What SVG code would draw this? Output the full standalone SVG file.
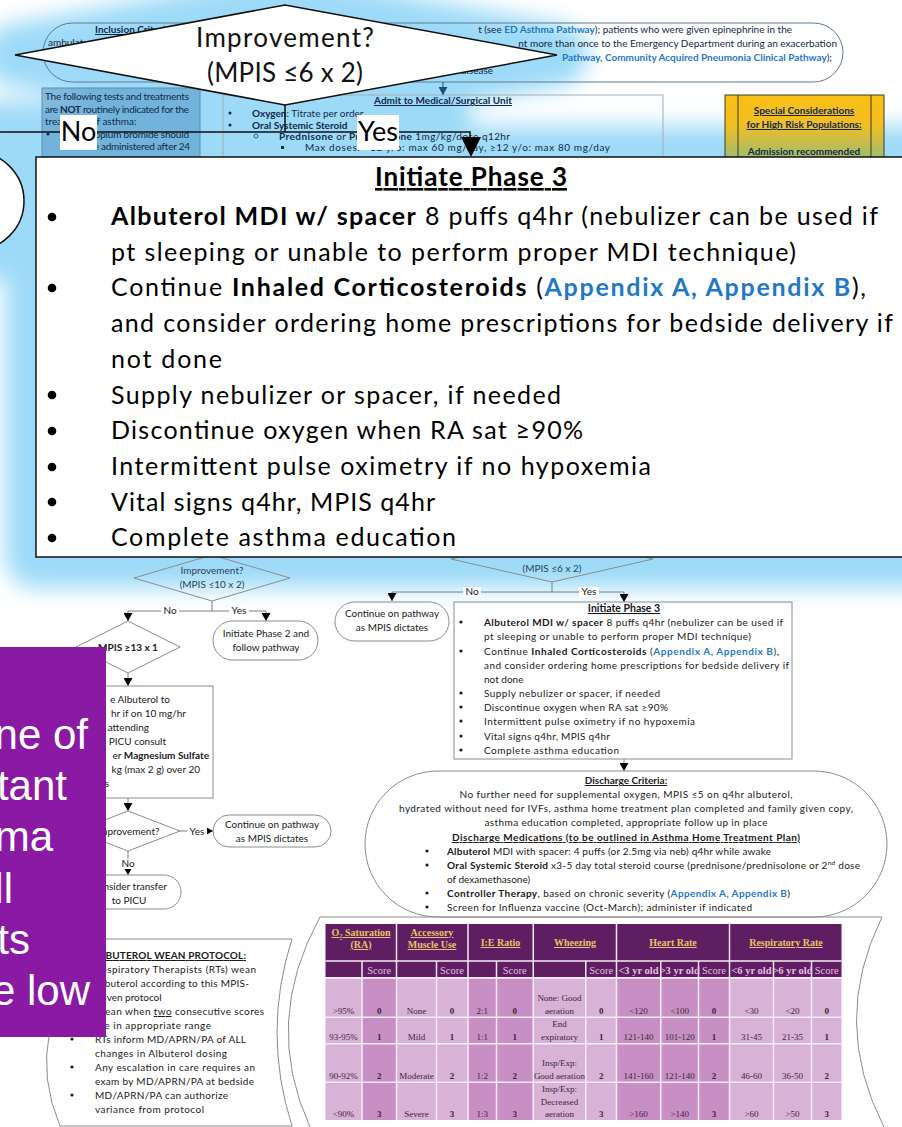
<svg xmlns="http://www.w3.org/2000/svg" width="902" height="1127" viewBox="0 0 902 1127">
<defs>
<style>
.c{font-family:Lato,"Liberation Sans",sans-serif}
.a{font-family:"Liberation Sans",Arial,sans-serif}
.s{font-family:"Liberation Serif","Times New Roman",serif}
.nv{fill:#13294a}
.k{fill:#1a1a1a}
.b{font-weight:bold}
.u{text-decoration:underline}
.lk{fill:#1f78c8;font-weight:bold}
.ln{fill:none;stroke:#7f7f7f;stroke-width:1}
.bx{fill:none;stroke:#8c8c8c;stroke-width:1}
.arr{fill:none;stroke:#7f7f7f;stroke-width:1;marker-end:url(#ah)}
.big{fill:#fff;stroke:#111;stroke-width:1.5}
.lbl{fill:#fff}
.hd{fill:#e9c26a;font-weight:bold;text-decoration:underline;font-size:10px}
.sc{fill:#e6bde4;font-size:10.5px}
.dv{fill:#3a2838;font-size:9px}
.lt{fill:#d9b2d8}
.dk{fill:#c78fc4}
</style>
<filter id="glow" filterUnits="userSpaceOnUse" x="-120" y="-120" width="1200" height="900">
<feGaussianBlur stdDeviation="11"/>
</filter>
<linearGradient id="gold" x1="0" y1="95" x2="0" y2="160" gradientUnits="userSpaceOnUse">
<stop offset="0" stop-color="#f9bf14"/>
<stop offset="0.45" stop-color="#f2bf22"/>
<stop offset="1" stop-color="#9cbb74"/>
</linearGradient>
<marker id="ah" markerUnits="userSpaceOnUse" markerWidth="8" markerHeight="9" refX="8" refY="4.5" orient="auto" viewBox="0 0 8 9">
<path d="M0,0 L8,4.5 L0,9 z" fill="#000"/>
</marker>
<marker id="ahn" markerUnits="userSpaceOnUse" markerWidth="8" markerHeight="9" refX="8" refY="4.5" orient="auto" viewBox="0 0 8 9">
<path d="M0,0 L8,4.5 L0,9 z" fill="#1f4e79"/>
</marker>
</defs>

<rect width="902" height="1127" fill="#fff"/>

<!-- soft blue halo behind the enlarged decision and action box -->
<g id="halo" filter="url(#glow)" fill="#9cdaf8" stroke="#9cdaf8" stroke-width="62" stroke-linejoin="round">
<polygon points="15,55 285,5 557,55 285,105"/>
<rect x="36" y="157" width="900" height="400"/>
<rect x="-300" y="152" width="324" height="98" rx="49"/>
<line x1="-20" y1="132" x2="470" y2="132"/>
</g>

<!-- upper part of the pathway -->
<g id="inclusion-criteria">
<rect x="43" y="23" width="800" height="59" rx="29.5" fill="none" stroke="#5f7a92"/>
<text class="c nv b u" font-size="10" x="95" y="33">Inclusion Criteria:</text>
<text class="c nv" font-size="10" x="48" y="46">ambulatory</text>
<text class="c nv" font-size="10" x="792" y="33" text-anchor="end">t (see <tspan class="lk">ED Asthma Pathway</tspan>); patients who were given epinephrine in the</text>
<text class="c nv" font-size="10" x="837" y="47" text-anchor="end">nt more than once to the Emergency Department during an exacerbation</text>
<text class="c nv" font-size="10" x="832" y="61" text-anchor="end"><tspan class="lk">Pathway, Community Acquired Pneumonia Clinical Pathway</tspan>);</text>
<text class="c nv" font-size="10" x="493" y="74" text-anchor="end">disease</text>
</g>

<g id="not-indicated">
<rect x="42" y="88" width="158" height="80" fill="#1e64a0" fill-opacity="0.33" stroke="#5b8db5"/>
<text class="c nv" font-size="10" x="45" y="100" textLength="144" lengthAdjust="spacing">The following tests and treatments</text>
<text class="c nv" font-size="10" x="45" y="113" textLength="144" lengthAdjust="spacing">are <tspan class="b">NOT</tspan> routinely indicated for the</text>
<text class="c nv" font-size="10" x="45" y="125">treatment of asthma:</text>
<circle cx="48" cy="134" r="1.5" fill="#13294a"/>
<text class="c nv" font-size="10" x="72" y="138" textLength="117" lengthAdjust="spacing">Ipratropium bromide should</text>
<text class="c nv" font-size="10" x="72" y="150" textLength="118" lengthAdjust="spacing">not be administered after 24</text>
</g>

<g id="admit-unit">
<rect x="223" y="95" width="440" height="80" fill="none" stroke="#a3adb5"/>
<text class="c nv b u" font-size="10" x="443" y="104" text-anchor="middle">Admit to Medical/Surgical Unit</text>
<circle cx="230" cy="113" r="1.5" fill="#13294a"/>
<text class="c nv" font-size="10" x="252" y="117"><tspan class="b">Oxygen</tspan>: Titrate per order</text>
<circle cx="230" cy="125" r="1.5" fill="#13294a"/>
<text class="c nv b" font-size="10" x="252" y="129">Oral Systemic Steroid</text>
<circle cx="256" cy="136" r="2" fill="none" stroke="#13294a" stroke-width="0.7"/>
<text class="c nv" font-size="10" x="279" y="140" textLength="231" lengthAdjust="spacing"><tspan class="b">Prednisone</tspan> or <tspan class="b">Prednisolone</tspan> 1mg/kg/dose q12hr</text>
<rect x="281" y="146" width="3" height="3" fill="#13294a"/>
<text class="c nv" font-size="10" x="305" y="151" textLength="305" lengthAdjust="spacing">Max doses: &lt;12 y/o: max 60 mg/day, ≥12 y/o: max 80 mg/day</text>
</g>

<g id="high-risk">
<rect x="725" y="95" width="159" height="80" fill="url(#gold)" stroke="#3d3d2a"/>
<line x1="738" y1="95" x2="738" y2="175" stroke="#3d3d2a"/>
<line x1="871" y1="95" x2="871" y2="175" stroke="#3d3d2a"/>
<text class="c nv b u" font-size="10" x="804" y="114" text-anchor="middle">Special Considerations</text>
<text class="c nv b u" font-size="10" x="804" y="128" text-anchor="middle">for High Risk Populations:</text>
<text class="c nv b" font-size="10" x="804" y="155" text-anchor="middle">Admission recommended</text>
</g>

<g id="top-connectors">
<line x1="443" y1="82" x2="443" y2="95" stroke="#1f4e79" marker-end="url(#ahn)"/>
</g>

<!-- lower part of the pathway -->
<g id="connectors">
<line class="ln" x1="212" y1="601" x2="212" y2="611"/>
<line class="ln" x1="128" y1="611" x2="266" y2="611"/>
<line class="arr" x1="128" y1="611" x2="128" y2="621"/>
<line class="arr" x1="266" y1="611" x2="266" y2="621"/>
<line class="arr" x1="128" y1="673" x2="128" y2="686"/>
<line class="arr" x1="128" y1="798" x2="128" y2="811"/>
<line class="arr" x1="180" y1="831" x2="213" y2="831"/>
<line class="arr" x1="128" y1="851" x2="128" y2="875"/>
<line class="ln" x1="552" y1="582" x2="552" y2="592"/>
<line class="ln" x1="392" y1="592" x2="624" y2="592"/>
<line class="arr" x1="392" y1="592" x2="392" y2="601"/>
<line class="arr" x1="624" y1="592" x2="624" y2="602"/>
<line class="arr" x1="624" y1="759" x2="624" y2="771"/>
<rect class="lbl" x="161" y="606" width="18" height="10"/>
<text class="c k" font-size="10" x="170" y="614" text-anchor="middle">No</text>
<rect class="lbl" x="229" y="606" width="20" height="10"/>
<text class="c k" font-size="10" x="239" y="614" text-anchor="middle">Yes</text>
<rect class="lbl" x="187" y="826" width="20" height="10"/>
<text class="c k" font-size="10" x="197" y="835" text-anchor="middle">Yes</text>
<rect class="lbl" x="119" y="859" width="18" height="10"/>
<text class="c k" font-size="10" x="128" y="867" text-anchor="middle">No</text>
<rect class="lbl" x="463" y="587" width="18" height="10"/>
<text class="c k" font-size="10" x="472" y="595" text-anchor="middle">No</text>
<rect class="lbl" x="579" y="587" width="20" height="10"/>
<text class="c k" font-size="10" x="589" y="595" text-anchor="middle">Yes</text>
</g>

<g id="improvement-10">
<polygon class="bx" points="134,578 212,555 290,578 212,601"/>
<text class="c" fill="#2d4257" font-size="10" x="212" y="574" text-anchor="middle">Improvement?</text>
<text class="c" fill="#2d4257" font-size="10" x="212" y="588" text-anchor="middle">(MPIS ≤10 x 2)</text>
</g>

<g id="phase-2">
<rect class="bx" x="213" y="621" width="105" height="39" rx="19.5"/>
<text class="c k" font-size="10" x="266" y="637" text-anchor="middle">Initiate Phase 2 and</text>
<text class="c k" font-size="10" x="266" y="651" text-anchor="middle">follow pathway</text>
</g>

<g id="mpis-13">
<polygon class="bx" points="76,647 128,621 180,647 128,673"/>
<text class="c k b" font-size="10" x="128" y="651" text-anchor="middle">MPIS ≥13 x 1</text>
</g>

<g id="escalate">
<rect class="bx" x="44" y="686" width="169" height="112"/>
<text class="c k" font-size="10" x="170" y="703" text-anchor="end">e Albuterol to</text>
<text class="c k" font-size="10" x="186" y="717" text-anchor="end">hr if on 10 mg/hr</text>
<text class="c k" font-size="10" x="149" y="731" text-anchor="end">attending</text>
<text class="c k" font-size="10" x="166" y="745" text-anchor="end">PICU consult</text>
<text class="c k" font-size="10" x="209" y="759" text-anchor="end">er <tspan class="b">Magnesium Sulfate</tspan></text>
<text class="c k" font-size="10" x="200" y="773" text-anchor="end">kg (max 2 g) over 20</text>
<text class="c k" font-size="10" x="109" y="787" text-anchor="end">s</text>
</g>

<g id="improvement-2">
<polygon class="bx" points="76,831 128,811 180,831 128,851"/>
<text class="c k" font-size="10" x="128" y="835" text-anchor="middle">Improvement?</text>
</g>

<g id="continue-1">
<rect class="bx" x="213" y="815" width="118" height="32" rx="16"/>
<text class="c k" font-size="10" x="272" y="828" text-anchor="middle">Continue on pathway</text>
<text class="c k" font-size="10" x="272" y="842" text-anchor="middle">as MPIS dictates</text>
</g>

<g id="picu">
<rect class="bx" x="60" y="875" width="121" height="34" rx="17"/>
<text class="c k" font-size="10" x="129" y="890" text-anchor="middle">Consider transfer</text>
<text class="c k" font-size="10" x="129" y="904" text-anchor="middle">to PICU</text>
</g>

<g id="improvement-6">
<polygon class="bx" points="451,559 552,536 653,559 552,582"/>
<text class="c" fill="#2d4257" font-size="10" x="552" y="572" text-anchor="middle">(MPIS ≤6 x 2)</text>
</g>

<g id="continue-2">
<rect class="bx" x="335" y="602" width="114" height="39" rx="19.5"/>
<text class="c k" font-size="10" x="392" y="617" text-anchor="middle">Continue on pathway</text>
<text class="c k" font-size="10" x="392" y="631" text-anchor="middle">as MPIS dictates</text>
</g>

<g id="phase-3">
<rect class="bx" x="454" y="602" width="338" height="157"/>
<text class="c k b u" font-size="10.5" x="624" y="612" text-anchor="middle">Initiate Phase 3</text>
<g fill="#1a1a1a">
<circle cx="461" cy="622" r="1.6"/><circle cx="461" cy="651" r="1.6"/><circle cx="461" cy="693" r="1.6"/>
<circle cx="461" cy="707" r="1.6"/><circle cx="461" cy="721" r="1.6"/><circle cx="461" cy="736" r="1.6"/><circle cx="461" cy="750" r="1.6"/>
</g>
<text class="c k" font-size="10" x="484" y="626" textLength="299" lengthAdjust="spacing"><tspan class="b">Albuterol MDI w/ spacer</tspan> 8 puffs q4hr (nebulizer can be used if</text>
<text class="c k" font-size="10" x="484" y="640" textLength="267" lengthAdjust="spacing">pt sleeping or unable to perform proper MDI technique)</text>
<text class="c k" font-size="10" x="484" y="655" textLength="295" lengthAdjust="spacing">Continue <tspan class="b">Inhaled Corticosteroids</tspan> (<tspan class="lk">Appendix A, Appendix B</tspan>),</text>
<text class="c k" font-size="10" x="484" y="669" textLength="305" lengthAdjust="spacing">and consider ordering home prescriptions for bedside delivery if</text>
<text class="c k" font-size="10" x="484" y="683">not done</text>
<text class="c k" font-size="10" x="484" y="697" textLength="176" lengthAdjust="spacing">Supply nebulizer or spacer, if needed</text>
<text class="c k" font-size="10" x="484" y="711" textLength="184" lengthAdjust="spacing">Discontinue oxygen when RA sat ≥90%</text>
<text class="c k" font-size="10" x="484" y="725" textLength="211" lengthAdjust="spacing">Intermittent pulse oximetry if no hypoxemia</text>
<text class="c k" font-size="10" x="484" y="740" textLength="126" lengthAdjust="spacing">Vital signs q4hr, MPIS q4hr</text>
<text class="c k" font-size="10" x="484" y="754" textLength="135" lengthAdjust="spacing">Complete asthma education</text>
</g>

<g id="discharge">
<rect class="bx" x="365" y="771" width="522" height="146" rx="73"/>
<text class="c k b u" font-size="10" x="626" y="784" text-anchor="middle">Discharge Criteria:</text>
<text class="c k" font-size="10" x="626" y="798" text-anchor="middle" textLength="333" lengthAdjust="spacing">No further need for supplemental oxygen, MPIS ≤5 on q4hr albuterol,</text>
<text class="c k" font-size="10" x="626" y="812" text-anchor="middle" textLength="454" lengthAdjust="spacing">hydrated without need for IVFs, asthma home treatment plan completed and family given copy,</text>
<text class="c k" font-size="10" x="626" y="826" text-anchor="middle" textLength="283" lengthAdjust="spacing">asthma education completed, appropriate follow up in place</text>
<text class="c k b u" font-size="10" x="626" y="841" text-anchor="middle" textLength="348" lengthAdjust="spacing">Discharge Medications (to be outlined in Asthma Home Treatment Plan)</text>
<g fill="#1a1a1a">
<circle cx="427" cy="851" r="1.6"/><circle cx="427" cy="865" r="1.6"/><circle cx="427" cy="893" r="1.6"/><circle cx="427" cy="907" r="1.6"/>
</g>
<text class="c k" font-size="10" x="447" y="855" textLength="324" lengthAdjust="spacing"><tspan class="b">Albuterol</tspan> MDI with spacer: 4 puffs (or 2.5mg via neb) q4hr while awake</text>
<text class="c k" font-size="10" x="447" y="869" textLength="413" lengthAdjust="spacing"><tspan class="b">Oral Systemic Steroid</tspan> x3-5 day total steroid course (prednisone/prednisolone or 2<tspan font-size="6.5" dy="-4">nd</tspan><tspan dy="4"> dose</tspan></text>
<text class="c k" font-size="10" x="447" y="883">of dexamethasone)</text>
<text class="c k" font-size="10" x="447" y="897" textLength="343" lengthAdjust="spacing"><tspan class="b">Controller Therapy</tspan>, based on chronic severity (<tspan class="lk">Appendix A, Appendix B</tspan>)</text>
<text class="c k" font-size="10" x="447" y="911" textLength="305" lengthAdjust="spacing">Screen for Influenza vaccine (Oct-March); administer if indicated</text>
</g>

<g id="wean-protocol">
<path class="bx" d="M98,939 L292,939 Q262,1032 292,1126 L60,1126 Q20,1032 98,939 Z"/>
<text class="c k b u" font-size="10" x="93" y="959" textLength="153" lengthAdjust="spacing">ALBUTEROL WEAN PROTOCOL:</text>
<text class="c k" font-size="10" x="95" y="973" textLength="161" lengthAdjust="spacing">Respiratory Therapists (RTs) wean</text>
<text class="c k" font-size="10" x="95" y="987" textLength="154" lengthAdjust="spacing">Albuterol according to this MPIS-</text>
<text class="c k" font-size="10" x="95" y="1001">driven protocol</text>
<text class="c k" font-size="10" x="95" y="1015" textLength="169" lengthAdjust="spacing">Wean when <tspan class="u">two</tspan> consecutive scores</text>
<text class="c k" font-size="10" x="95" y="1029" textLength="116" lengthAdjust="spacing">are in appropriate range</text>
<text class="c k" font-size="10" x="95" y="1043" textLength="151" lengthAdjust="spacing">RTs inform MD/APRN/PA of ALL</text>
<text class="c k" font-size="10" x="95" y="1057" textLength="132" lengthAdjust="spacing">changes in Albuterol dosing</text>
<text class="c k" font-size="10" x="95" y="1071" textLength="160" lengthAdjust="spacing">Any escalation in care requires an</text>
<text class="c k" font-size="10" x="95" y="1085" textLength="159" lengthAdjust="spacing">exam by MD/APRN/PA at bedside</text>
<text class="c k" font-size="10" x="95" y="1099" textLength="133" lengthAdjust="spacing">MD/APRN/PA can authorize</text>
<text class="c k" font-size="10" x="95" y="1113" textLength="109" lengthAdjust="spacing">variance from protocol</text>
<g fill="#1a1a1a"><circle cx="72" cy="1039" r="1.6"/><circle cx="72" cy="1067" r="1.6"/><circle cx="72" cy="1095" r="1.6"/></g>
</g>

<g id="mpis-table">
<path class="bx" d="M320,917 L882,917 M320,917 Q262,1022 310,1127 M882,917 Q830,1022 884,1127"/>
<rect x="325.5" y="924" width="516" height="53" fill="#5f1e62"/>
<rect class="lt" x="325.5" y="978.5" width="36.5" height="141.5"/>
<rect class="dk" x="362" y="978.5" width="34.5" height="141.5"/>
<rect class="lt" x="396.5" y="978.5" width="40" height="141.5"/>
<rect class="lt" x="436.5" y="978.5" width="31.5" height="141.5"/>
<rect class="dk" x="468" y="978.5" width="28.5" height="141.5"/>
<rect class="dk" x="496.5" y="978.5" width="36.75" height="141.5"/>
<rect class="lt" x="533.25" y="978.5" width="52.5" height="141.5"/>
<rect class="lt" x="585.75" y="978.5" width="30.75" height="141.5"/>
<rect class="dk" x="616.5" y="978.5" width="44.25" height="141.5"/>
<rect class="dk" x="660.75" y="978.5" width="37.75" height="141.5"/>
<rect class="dk" x="698.5" y="978.5" width="31" height="141.5"/>
<rect class="lt" x="729.5" y="978.5" width="44" height="141.5"/>
<rect class="lt" x="773.5" y="978.5" width="38" height="141.5"/>
<rect class="lt" x="811.5" y="978.5" width="30" height="141.5"/>
<g stroke="#f6eef6" stroke-width="1.5">
<line x1="325.5" y1="961" x2="841.5" y2="961"/>
<line x1="325.5" y1="977.75" x2="841.5" y2="977.75"/>
<line x1="325.5" y1="1017.25" x2="841.5" y2="1017.25"/>
<line x1="325.5" y1="1043.75" x2="841.5" y2="1043.75"/>
<line x1="325.5" y1="1082.25" x2="841.5" y2="1082.25"/>
<line x1="396.5" y1="924" x2="396.5" y2="1120"/>
<line x1="468" y1="924" x2="468" y2="1120"/>
<line x1="533.25" y1="924" x2="533.25" y2="1120"/>
<line x1="616.5" y1="924" x2="616.5" y2="1120"/>
<line x1="729.5" y1="924" x2="729.5" y2="1120"/>
<line x1="362" y1="961" x2="362" y2="1120"/>
<line x1="436.5" y1="961" x2="436.5" y2="1120"/>
<line x1="496.5" y1="961" x2="496.5" y2="1120"/>
<line x1="585.75" y1="961" x2="585.75" y2="1120"/>
<line x1="660.75" y1="961" x2="660.75" y2="1120"/>
<line x1="698.5" y1="961" x2="698.5" y2="1120"/>
<line x1="773.5" y1="961" x2="773.5" y2="1120"/>
<line x1="811.5" y1="961" x2="811.5" y2="1120"/>
</g>
<g class="s" text-anchor="middle">
<text class="hd" x="361" y="936">O<tspan font-size="6.5" dy="2">2</tspan><tspan dy="-2"> Saturation</tspan></text>
<text class="hd" x="361" y="948">(RA)</text>
<text class="hd" x="432" y="936">Accessory</text>
<text class="hd" x="432" y="948">Muscle Use</text>
<text class="hd" x="500.5" y="946">I:E Ratio</text>
<text class="hd" x="575" y="946">Wheezing</text>
<text class="hd" x="673" y="946">Heart Rate</text>
<text class="hd" x="786" y="946">Respiratory Rate</text>
<text class="sc" x="379.25" y="974">Score</text>
<text class="sc" x="452" y="974">Score</text>
<text class="sc" x="514.75" y="974">Score</text>
<text class="sc" x="601.25" y="974">Score</text>
<text class="sc" x="714" y="974">Score</text>
<text class="sc" x="826.75" y="974">Score</text>
<text class="sc b" font-size="9px" x="638.5" y="974">&lt;3 yr old</text>
<text class="sc b" font-size="9px" x="679.75" y="974">&gt;3 yr old</text>
<text class="sc b" font-size="9px" x="751.5" y="974">&lt;6 yr old</text>
<text class="sc b" font-size="9px" x="792.5" y="974">&gt;6 yr old</text>
</g>
<g class="s dv" text-anchor="middle">
<text x="343.5" y="1014">&gt;95%</text><text class="b" x="379.25" y="1014">0</text><text x="416.5" y="1014">None</text><text class="b" x="452" y="1014">0</text><text x="482.25" y="1014">2:1</text><text class="b" x="514.75" y="1014">0</text><text x="559.5" y="1001">None: Good</text><text x="559.5" y="1014">aeration</text><text class="b" x="601.25" y="1014">0</text><text x="638.5" y="1014">&lt;120</text><text x="679.75" y="1014">&lt;100</text><text class="b" x="714" y="1014">0</text><text x="751.5" y="1014">&lt;30</text><text x="792.5" y="1014">&lt;20</text><text class="b" x="826.75" y="1014">0</text>
<text x="343.5" y="1040">93-95%</text><text class="b" x="379.25" y="1040">1</text><text x="416.5" y="1040">Mild</text><text class="b" x="452" y="1040">1</text><text x="482.25" y="1040">1:1</text><text class="b" x="514.75" y="1040">1</text><text x="559.5" y="1027">End</text><text x="559.5" y="1040">expiratory</text><text class="b" x="601.25" y="1040">1</text><text x="638.5" y="1040">121-140</text><text x="679.75" y="1040">101-120</text><text class="b" x="714" y="1040">1</text><text x="751.5" y="1040">31-45</text><text x="792.5" y="1040">21-35</text><text class="b" x="826.75" y="1040">1</text>
<text x="343.5" y="1079">90-92%</text><text class="b" x="379.25" y="1079">2</text><text x="416.5" y="1079">Moderate</text><text class="b" x="452" y="1079">2</text><text x="482.25" y="1079">1:2</text><text class="b" x="514.75" y="1079">2</text><text x="559.5" y="1066">Insp/Exp:</text><text x="559.5" y="1079">Good aeration</text><text class="b" x="601.25" y="1079">2</text><text x="638.5" y="1079">141-160</text><text x="679.75" y="1079">121-140</text><text class="b" x="714" y="1079">2</text><text x="751.5" y="1079">46-60</text><text x="792.5" y="1079">36-50</text><text class="b" x="826.75" y="1079">2</text>
<text x="343.5" y="1117">&lt;90%</text><text class="b" x="379.25" y="1117">3</text><text x="416.5" y="1117">Severe</text><text class="b" x="452" y="1117">3</text><text x="482.25" y="1117">1:3</text><text class="b" x="514.75" y="1117">3</text><text x="559.5" y="1092">Insp/Exp:</text><text x="559.5" y="1105">Decreased</text><text x="559.5" y="1117">aeration</text><text class="b" x="601.25" y="1117">3</text><text x="638.5" y="1117">&gt;160</text><text x="679.75" y="1117">&gt;140</text><text class="b" x="714" y="1117">3</text><text x="751.5" y="1117">&gt;60</text><text x="792.5" y="1117">&gt;50</text><text class="b" x="826.75" y="1117">3</text>
</g>
</g>

<!-- enlarged decision: Improvement? (MPIS ≤6 x 2) -->
<g id="big-decision">
<rect class="big" x="-300" y="152" width="324" height="98" rx="49"/>
<polygon class="big" points="15,55 285,5 557,55 285,105"/>
<text class="c" fill="#111" font-size="26" x="285" y="47" text-anchor="middle" textLength="178" lengthAdjust="spacing">Improvement?</text>
<text class="c" fill="#111" font-size="26" x="285" y="82" text-anchor="middle" textLength="156" lengthAdjust="spacing">(MPIS ≤6 x 2)</text>
</g>

<g id="big-connectors">
<polyline points="285,105 285,132" fill="none" stroke="#111" stroke-width="1.5"/>
<polyline points="-10,132 470,132 470,138" fill="none" stroke="#111" stroke-width="1.5"/>
<polygon points="461,137 481,137 471,157" fill="#000"/>
<rect class="lbl" x="60" y="115" width="37" height="35"/>
<text class="c" fill="#000" font-size="27" x="78.5" y="141" text-anchor="middle">No</text>
<rect class="lbl" x="357" y="115" width="42" height="35"/>
<text class="c" fill="#000" font-size="27" x="378" y="141" text-anchor="middle">Yes</text>
</g>

<!-- enlarged action box -->
<g id="big-phase-3">
<rect class="big" x="36" y="157" width="890" height="400"/>
<text class="c b u" fill="#000" font-size="26" x="471" y="186" text-anchor="middle" textLength="192" lengthAdjust="spacing">Initiate Phase 3</text>
<g fill="#000">
<circle cx="52" cy="217" r="4.3"/><circle cx="52" cy="288" r="4.3"/><circle cx="52" cy="395" r="4.3"/>
<circle cx="52" cy="431" r="4.3"/><circle cx="52" cy="467" r="4.3"/><circle cx="52" cy="502" r="4.3"/><circle cx="52" cy="538" r="4.3"/>
</g>
<g class="c" fill="#000" font-size="25">
<text x="111" y="225" textLength="767" lengthAdjust="spacing"><tspan class="b">Albuterol MDI w/ spacer</tspan> 8 puffs q4hr (nebulizer can be used if</text>
<text x="111" y="260.7" textLength="685" lengthAdjust="spacing">pt sleeping or unable to perform proper MDI technique)</text>
<text x="111" y="296.4" textLength="755" lengthAdjust="spacing">Continue <tspan class="b">Inhaled Corticosteroids</tspan> (<tspan class="lk">Appendix A, Appendix B</tspan>),</text>
<text x="111" y="332.1" textLength="782" lengthAdjust="spacing">and consider ordering home prescriptions for bedside delivery if</text>
<text x="111" y="367.8" textLength="111" lengthAdjust="spacing">not done</text>
<text x="111" y="403.5" textLength="450" lengthAdjust="spacing">Supply nebulizer or spacer, if needed</text>
<text x="111" y="439.2" textLength="472" lengthAdjust="spacing">Discontinue oxygen when RA sat ≥90%</text>
<text x="111" y="474.9" textLength="540" lengthAdjust="spacing">Intermittent pulse oximetry if no hypoxemia</text>
<text x="111" y="510.6" textLength="324" lengthAdjust="spacing">Vital signs q4hr, MPIS q4hr</text>
<text x="111" y="546.3" textLength="345" lengthAdjust="spacing">Complete asthma education</text>
</g>
</g>

<!-- purple caption panel -->
<g id="caption-panel">
<rect x="0" y="647" width="106" height="390" fill="#8a1aa3"/>
<g class="a" fill="#fff" font-size="42" text-anchor="end">
<text x="88" y="749">ne of</text>
<text x="67" y="800">tant</text>
<text x="53" y="851">ma</text>
<text x="13" y="903">ll</text>
<text x="30" y="954">ts</text>
<text x="90" y="1005">e low</text>
</g>
</g>
</svg>
